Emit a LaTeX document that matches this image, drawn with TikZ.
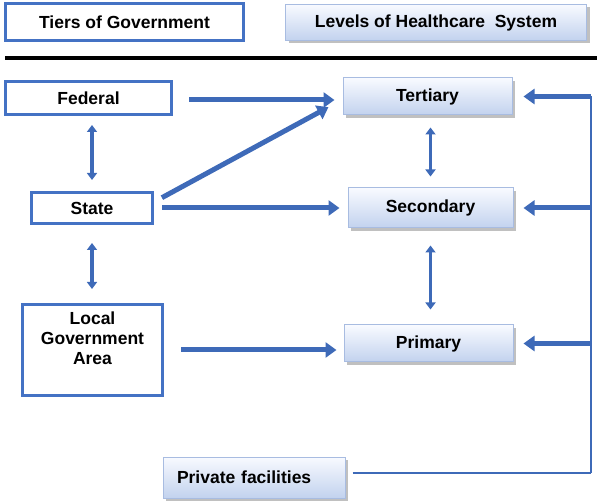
\documentclass[tikz,border=0pt]{standalone}
\usepackage{fontspec}
\setmainfont{Liberation Sans}
\usetikzlibrary{arrows.meta,shadows,calc}

\definecolor{boxblue}{RGB}{68,114,196}
\definecolor{arrblue}{RGB}{62,106,184}
\definecolor{shadetop}{RGB}{248,250,255}
\definecolor{shadebot}{RGB}{194,210,238}
\definecolor{lvlline}{RGB}{168,188,225}

\tikzset{every picture/.style={line width=0.75pt}}
\tikzset{
  boxfont/.style={font=\fontsize{17.5}{20}\selectfont\bfseries},
  govbox/.style={draw=boxblue, line width=3pt, fill=white, boxfont, align=center, inner sep=0pt},
  lvlbox/.style={draw=lvlline, line width=1pt, top color=shadetop, bottom color=shadebot,
    drop shadow={shadow xshift=3pt, shadow yshift=-3pt, fill=black!55, opacity=0.45},
    boxfont, inner sep=0pt},
  harrow/.style={draw=arrblue, line width=5pt, -{Triangle[length=11pt,width=15pt]}},
  varrow/.style={draw=arrblue, line width=3.5pt, {Triangle[length=7pt,width=10pt]}-{Triangle[length=7pt,width=10pt]}},
  rail/.style={draw=arrblue, line width=2pt},
}

\begin{document}
\begin{tikzpicture}[x=1pt,y=1pt,yscale=-1,xscale=1]
\useasboundingbox (0,0) rectangle (597,502);

%Shape: Rectangle [legend]
\draw (124.5,22) node (tiers) [govbox, minimum width=238pt, minimum height=37pt] {Tiers of Government};
\draw (436,22.5) node (levels) [lvlbox, minimum width=301pt, minimum height=36pt] {Levels of Healthcare\ \ System};
%Straight Lines [separator]
\draw [line width=4pt]  (5,58.5) -- (597,58.5) ;

%Shape: Rectangle [tiers of government]
\draw (88.5,98) node (federal) [govbox, minimum width=166pt, minimum height=33pt] {Federal};
\draw (92,208) node (state) [govbox, minimum width=121pt, minimum height=31pt] {State};
\draw (92.5,350) node (lga) [govbox, minimum width=140pt, minimum height=91pt, text depth=24pt] {Local\\Government\\Area};

%Shape: Rectangle [levels of care]
\draw (427.5,96.5) node (tertiary) [lvlbox, minimum width=169pt, minimum height=37pt] {Tertiary};
\draw (430.5,208) node (secondary) [lvlbox, minimum width=165pt, minimum height=40pt] {Secondary};
\draw (428.5,343.5) node (primary) [lvlbox, minimum width=169pt, minimum height=37pt] {Primary};
\draw (254,477.5) node (private) [lvlbox, minimum height=41pt, text width=154pt, inner xsep=14pt, align=left] {Private facilities};

%Straight Lines [right rail]
\coordinate (railtop) at (591,96);
\coordinate (railbot) at (591,473);
\coordinate (privout) at ($(private.east)+(0,-5)$);
\draw [rail]  (railtop) -- (railbot) ;
\draw [rail, shorten <=7pt]  (privout) -- (privout -| railbot) ;

%Arrows [government to care]
\coordinate (fedout) at ($(federal.east)+(0,2)$);
\coordinate (stateup) at ($(state.east)+(0,-6)$);
\coordinate (tertin) at ($(tertiary.west)+(0,3)$);
\draw [harrow, shorten <=16pt, shorten >=8pt]  (fedout) -- (fedout -| tertiary.west) ;
\draw [harrow, shorten <=9pt, shorten >=16pt]  (stateup) -- (tertin) ;
\draw [harrow, shorten <=8pt, shorten >=8pt]  (state.east) -- (state.east -| secondary.west) ;
\draw [harrow, shorten <=17pt, shorten >=7pt]  (lga.east) -- (lga.east -| primary.west) ;

%Arrows [rail to care]
\draw [harrow, shorten >=11pt]  (tertiary.east -| railtop) -- (tertiary.east) ;
\draw [harrow, shorten >=10pt]  (secondary.east -| railtop) -- (secondary.east) ;
\draw [harrow, shorten >=10pt]  (primary.east -| railtop) -- (primary.east) ;

%Arrows [two way]
\draw [varrow, shorten <=9pt, shorten >=11pt]  (state.north |- federal.south) -- (state.north) ;
\draw [varrow, shorten <=18pt, shorten >=14pt]  (state.south) -- (state.south |- lga.north) ;
\draw [varrow, shorten <=12pt, shorten >=11pt]  (secondary.north |- tertiary.south) -- (secondary.north) ;
\draw [varrow, shorten <=17pt, shorten >=15pt]  (secondary.south) -- (secondary.south |- primary.north) ;

\end{tikzpicture}
\end{document}
